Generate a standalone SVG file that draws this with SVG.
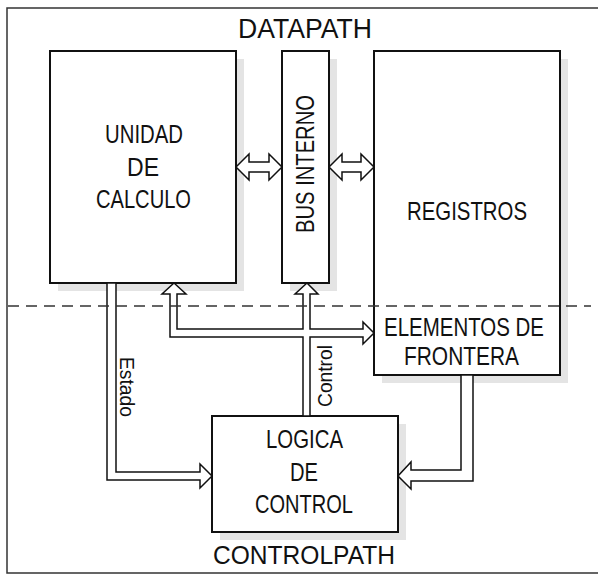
<svg xmlns="http://www.w3.org/2000/svg" width="598" height="574" viewBox="0 0 598 574">
<style>
.box{fill:#fff;stroke:#111;stroke-width:2}
.sh{fill:#e4e4e4}
.ar{fill:#fff;stroke:#111;stroke-width:1.5;stroke-linejoin:miter}
.t{font-family:"Liberation Sans",Arial,sans-serif;font-size:25px;fill:#111}
.s{font-family:"Liberation Sans",Arial,sans-serif;font-size:20px;fill:#111}
</style>
<rect width="598" height="574" fill="#fff"/>
<path d="M598,8 H7 V573 H598" fill="none" stroke="#333" stroke-width="1.5"/>
<text class="t" x="238" y="38" textLength="134" lengthAdjust="spacingAndGlyphs" style="font-size:27px">DATAPATH</text>
<text class="t" x="213" y="564" textLength="182" lengthAdjust="spacingAndGlyphs">CONTROLPATH</text>

<g id="unidad">
<rect class="sh" x="58" y="59" width="186" height="232"/>
<rect class="box" x="50" y="51" width="186" height="232"/>
<text class="t" x="105" y="143" textLength="78" lengthAdjust="spacingAndGlyphs">UNIDAD</text>
<text class="t" x="127" y="176" textLength="32" lengthAdjust="spacingAndGlyphs">DE</text>
<text class="t" x="96" y="208" textLength="95" lengthAdjust="spacingAndGlyphs">CALCULO</text>
</g>
<g id="bus">
<rect class="sh" x="290" y="59" width="47" height="232"/>
<rect class="box" x="282" y="51" width="47" height="232"/>
<text class="t" transform="translate(314,233) rotate(-90)" x="0" y="0" textLength="138" lengthAdjust="spacingAndGlyphs">BUS INTERNO</text>
</g>
<g id="registros">
<rect class="sh" x="382" y="59" width="186" height="324"/>
<rect class="box" x="374" y="51" width="186" height="324"/>
<text class="t" x="407" y="220" textLength="120" lengthAdjust="spacingAndGlyphs">REGISTROS</text>
<text class="t" x="384" y="336" textLength="160" lengthAdjust="spacingAndGlyphs">ELEMENTOS DE</text>
<text class="t" x="404" y="365" textLength="115" lengthAdjust="spacingAndGlyphs">FRONTERA</text>
</g>
<g id="logica">
<rect class="sh" x="220" y="424" width="186" height="116"/>
<rect class="box" x="212" y="416" width="186" height="116"/>
<text class="t" x="266" y="448" textLength="77" lengthAdjust="spacingAndGlyphs">LOGICA</text>
<text class="t" x="290" y="481" textLength="28" lengthAdjust="spacingAndGlyphs">DE</text>
<text class="t" x="255" y="513" textLength="98" lengthAdjust="spacingAndGlyphs">CONTROL</text>
</g>

<g id="connectors">
<polygon class="ar" points="236,167 249,154 249,162 269,162 269,154 282,167 269,180 269,172 249,172 249,180"/>
<polygon class="ar" points="329,167 342,154 342,162 361,162 361,154 374,167 361,180 361,172 342,172 342,180"/>
<polygon class="ar" points="107,283 107,480 200,480 200,488 212,476 200,464 200,472 116,472 116,283"/>
<polygon class="ar" points="174,283 186,294 177,294 177,329 303,329 303,294 295,294 307,283 318,294 310,294 310,329 363,329 363,322 374,333 363,344 363,337 310,337 310,416 303,416 303,337 170,337 170,294 162,294"/>
<polygon class="ar" points="461,375 461,470 411,470 411,462 398,476 411,489 411,481 473,481 473,375"/>
<text class="s" transform="translate(120,357) rotate(90)" x="0" y="0" textLength="60" lengthAdjust="spacingAndGlyphs">Estado</text>
<text class="s" transform="translate(332,407) rotate(-90)" x="0" y="0" textLength="62" lengthAdjust="spacingAndGlyphs">Control</text>
</g>
<line x1="8" y1="306" x2="591" y2="306" stroke="#333" stroke-width="1.5" stroke-dasharray="11 7"/>
</svg>
